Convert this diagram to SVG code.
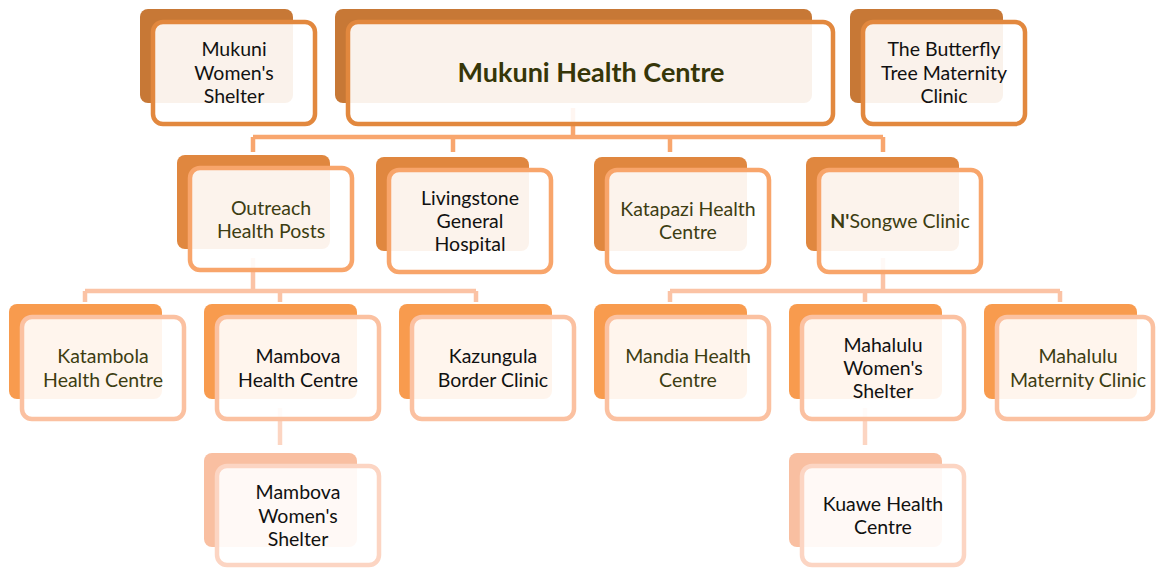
<svg xmlns="http://www.w3.org/2000/svg" width="1156" height="568" viewBox="0 0 1156 568">
<style>
text{font-family:Lato,"Noto Sans",sans-serif;font-size:19.5px;text-anchor:middle}
.ol{fill:#3d3d12}.bk{fill:#111111}
.front{fill:#ffffff;fill-opacity:0.9;stroke-width:4.5}
.b0{fill:#c77836}.f0{stroke:#e2883e}
.b1{fill:#e0873f}.f1{stroke:#f8a56b}
.b2{fill:#f89b4e}.f2{stroke:#fbc1a1}
.b3{fill:#f9bfa1}.f3{stroke:#fcd5c3}
.c1{stroke:#f8a66e;stroke-width:4.5;fill:none}
.c2{stroke:#fbc3a5;stroke-width:4.5;fill:none}
.c3{stroke:#fcd5c2;stroke-width:4.5;fill:none}
</style>
<g id="connectors">
<path class="c1" d="M573,108 V137 M253,137 H883 M253,137 V152 M453,137 V152 M670,137 V152 M883,137 V152"/>
<path class="c2" d="M253,258 V291 M85,291 H476 M85,291 V302 M280,291 V302 M476,291 V302"/>
<path class="c2" d="M883,258 V291 M670,291 H1060 M670,291 V302 M865,291 V302 M1060,291 V302"/>
<path class="c3" d="M280,408 V445"/>
<path class="c3" d="M865,408 V445"/>
</g>
<g id="mukuni-womens-shelter">
<rect class="b0" x="140" y="9" width="153" height="94" rx="8"/>
<rect class="front f0" x="153" y="22" width="162" height="102" rx="10"/>
<text class="bk" x="234" y="56">Mukuni</text>
<text class="bk" x="234" y="80">Women's</text>
<text class="bk" x="234" y="103">Shelter</text>
</g>
<g id="mukuni-health-centre">
<rect class="b0" x="335" y="9" width="477" height="94" rx="8"/>
<rect class="front f0" x="348" y="22" width="485" height="102" rx="10"/>
<text class="ol" x="591" y="82" style="font-size:27px;font-weight:bold;fill:#363608">Mukuni Health Centre</text>
</g>
<g id="butterfly-tree">
<rect class="b0" x="850" y="9" width="153" height="94" rx="8"/>
<rect class="front f0" x="863" y="22" width="162" height="102" rx="10"/>
<text class="bk" x="944" y="56">The Butterfly</text>
<text class="bk" x="944" y="80">Tree Maternity</text>
<text class="bk" x="944" y="103">Clinic</text>
</g>
<g id="outreach">
<rect class="b1" x="177" y="155" width="153" height="94" rx="8"/>
<rect class="front f1" x="190" y="168" width="162" height="102" rx="10"/>
<text class="ol" x="271" y="215">Outreach</text>
<text class="ol" x="271" y="238">Health Posts</text>
</g>
<g id="livingstone">
<rect class="b1" x="376" y="157" width="153" height="94" rx="8"/>
<rect class="front f1" x="389" y="170" width="162" height="102" rx="10"/>
<text class="bk" x="470" y="205">Livingstone</text>
<text class="bk" x="470" y="228">General</text>
<text class="bk" x="470" y="251">Hospital</text>
</g>
<g id="katapazi">
<rect class="b1" x="594" y="157" width="153" height="94" rx="8"/>
<rect class="front f1" x="607" y="170" width="162" height="102" rx="10"/>
<text class="ol" x="688" y="216">Katapazi Health</text>
<text class="ol" x="688" y="239">Centre</text>
</g>
<g id="nsongwe">
<rect class="b1" x="806" y="157" width="153" height="94" rx="8"/>
<rect class="front f1" x="819" y="170" width="162" height="102" rx="10"/>
<text class="ol" x="900" y="228"><tspan font-weight="bold">N'</tspan>Songwe Clinic</text>
</g>
<g id="katambola">
<rect class="b2" x="9" y="304" width="153" height="95" rx="8"/>
<rect class="front f2" x="22" y="317" width="162" height="102" rx="10"/>
<text class="ol" x="103" y="363">Katambola</text>
<text class="ol" x="103" y="387">Health Centre</text>
</g>
<g id="mambova-hc">
<rect class="b2" x="204" y="304" width="153" height="95" rx="8"/>
<rect class="front f2" x="217" y="317" width="162" height="102" rx="10"/>
<text class="bk" x="298" y="363">Mambova</text>
<text class="bk" x="298" y="387">Health Centre</text>
</g>
<g id="kazungula">
<rect class="b2" x="399" y="304" width="153" height="95" rx="8"/>
<rect class="front f2" x="412" y="317" width="162" height="102" rx="10"/>
<text class="bk" x="493" y="363">Kazungula</text>
<text class="bk" x="493" y="387">Border Clinic</text>
</g>
<g id="mandia">
<rect class="b2" x="594" y="304" width="153" height="95" rx="8"/>
<rect class="front f2" x="607" y="317" width="162" height="102" rx="10"/>
<text class="ol" x="688" y="363">Mandia Health</text>
<text class="ol" x="688" y="387">Centre</text>
</g>
<g id="mahalulu-ws">
<rect class="b2" x="789" y="304" width="153" height="95" rx="8"/>
<rect class="front f2" x="802" y="317" width="162" height="102" rx="10"/>
<text class="bk" x="883" y="352">Mahalulu</text>
<text class="bk" x="883" y="375">Women's</text>
<text class="bk" x="883" y="398">Shelter</text>
</g>
<g id="mahalulu-maternity">
<rect class="b2" x="984" y="304" width="153" height="95" rx="8"/>
<rect class="front f2" x="997" y="317" width="156" height="102" rx="10"/>
<text class="ol" x="1078" y="363">Mahalulu</text>
<text class="ol" x="1078" y="387">Maternity Clinic</text>
</g>
<g id="mambova-ws">
<rect class="b3" x="204" y="453" width="153" height="94" rx="8"/>
<rect class="front f3" x="217" y="466" width="162" height="99" rx="10"/>
<text class="bk" x="298" y="499">Mambova</text>
<text class="bk" x="298" y="523">Women's</text>
<text class="bk" x="298" y="546">Shelter</text>
</g>
<g id="kuawe">
<rect class="b3" x="789" y="453" width="153" height="94" rx="8"/>
<rect class="front f3" x="802" y="466" width="162" height="99" rx="10"/>
<text class="bk" x="883" y="511">Kuawe Health</text>
<text class="bk" x="883" y="534">Centre</text>
</g>
</svg>
